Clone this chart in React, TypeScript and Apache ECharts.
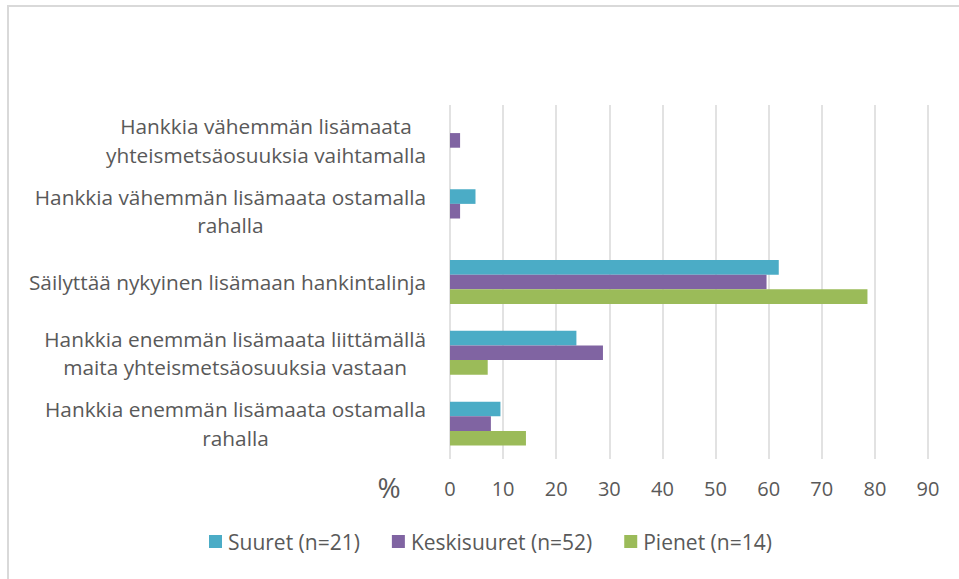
import React, { useEffect, useRef } from "react";
import * as echarts from "echarts";

const categories = [
  "Hankkia enemmän lisämaata ostamalla\nrahalla",
  "Hankkia enemmän lisämaata liittämällä\nmaita yhteismetsäosuuksia vastaan",
  "Säilyttää nykyinen lisämaan hankintalinja",
  "Hankkia vähemmän lisämaata ostamalla\nrahalla",
  "Hankkia vähemmän lisämaata\nyhteismetsäosuuksia vaihtamalla",
];
const seriesNames = ["Suuret (n=21)", "Keskisuuret (n=52)", "Pienet (n=14)"];
const suuret = [9.5, 23.8, 61.9, 4.8, 0];
const keskisuuret = [7.7, 28.8, 59.6, 1.9, 1.9];
const pienet = [14.3, 7.1, 78.6, 0, 0];
const colors = ["#4bacc6", "#8064a2", "#9bbb59"];

const FONT = "'Open Sans', sans-serif";
const TXT = "#595959";

export default function App() {
  const ref = useRef<HTMLDivElement>(null);
  useEffect(() => {
    if (!ref.current) return;
    const chart = echarts.init(ref.current, undefined, { renderer: "svg" });
    const values = [suuret, keskisuuret, pienet];
    chart.setOption({
      animation: false,
      backgroundColor: "#ffffff",
      grid: { left: 450, right: 31, top: 105, bottom: 120, containLabel: false },
      legend: {
        data: seriesNames,
        bottom: 22,
        left: 204,
        itemWidth: 13,
        itemHeight: 13,
        itemGap: 32,
        icon: "rect",
        textStyle: { fontFamily: FONT, fontSize: 21, color: TXT, padding: [0, 0, 0, 1] },
      },
      xAxis: {
        type: "value",
        min: 0,
        max: 90,
        interval: 10,
        axisLine: { show: false },
        axisTick: { show: false },
        splitLine: { lineStyle: { color: "#d9d9d9", width: 1.5 } },
        axisLabel: { fontFamily: FONT, fontSize: 20, color: TXT, margin: 19 },
      },
      yAxis: {
        type: "category",
        data: categories,
        axisLine: { show: false },
        axisTick: { show: false },
        axisLabel: {
          margin: 24,
          formatter: (v: string) => v.split("\n").map((l) => `{c|${l}}`).join("\n"),
          rich: {
            c: { align: "center", fontFamily: FONT, fontSize: 20.8, color: TXT, lineHeight: 28.5 },
          },
        },
      },
      graphic: [
        {
          type: "rect",
          shape: { x: 8, y: 6, width: 1200, height: 1200 },
          style: { fill: "none", stroke: "#d9d9d9", lineWidth: 2 },
          silent: true,
        },
        {
          type: "text",
          x: 389,
          y: 487,
          style: {
            text: "%",
            fontFamily: FONT,
            fontSize: 28,
            fill: TXT,
            align: "center",
            verticalAlign: "middle",
          },
        },
      ],
      series: seriesNames.map((name, i) => ({
        name,
        type: "bar",
        data: values[i],
        barGap: "0%",
        barCategoryGap: "38%",
        itemStyle: { color: colors[i] },
      })),
    });
    return () => chart.dispose();
  }, []);
  return (
    <div
      ref={ref}
      style={{ position: "fixed", left: 0, top: 0, width: 959, height: 579 }}
    />
  );
}
